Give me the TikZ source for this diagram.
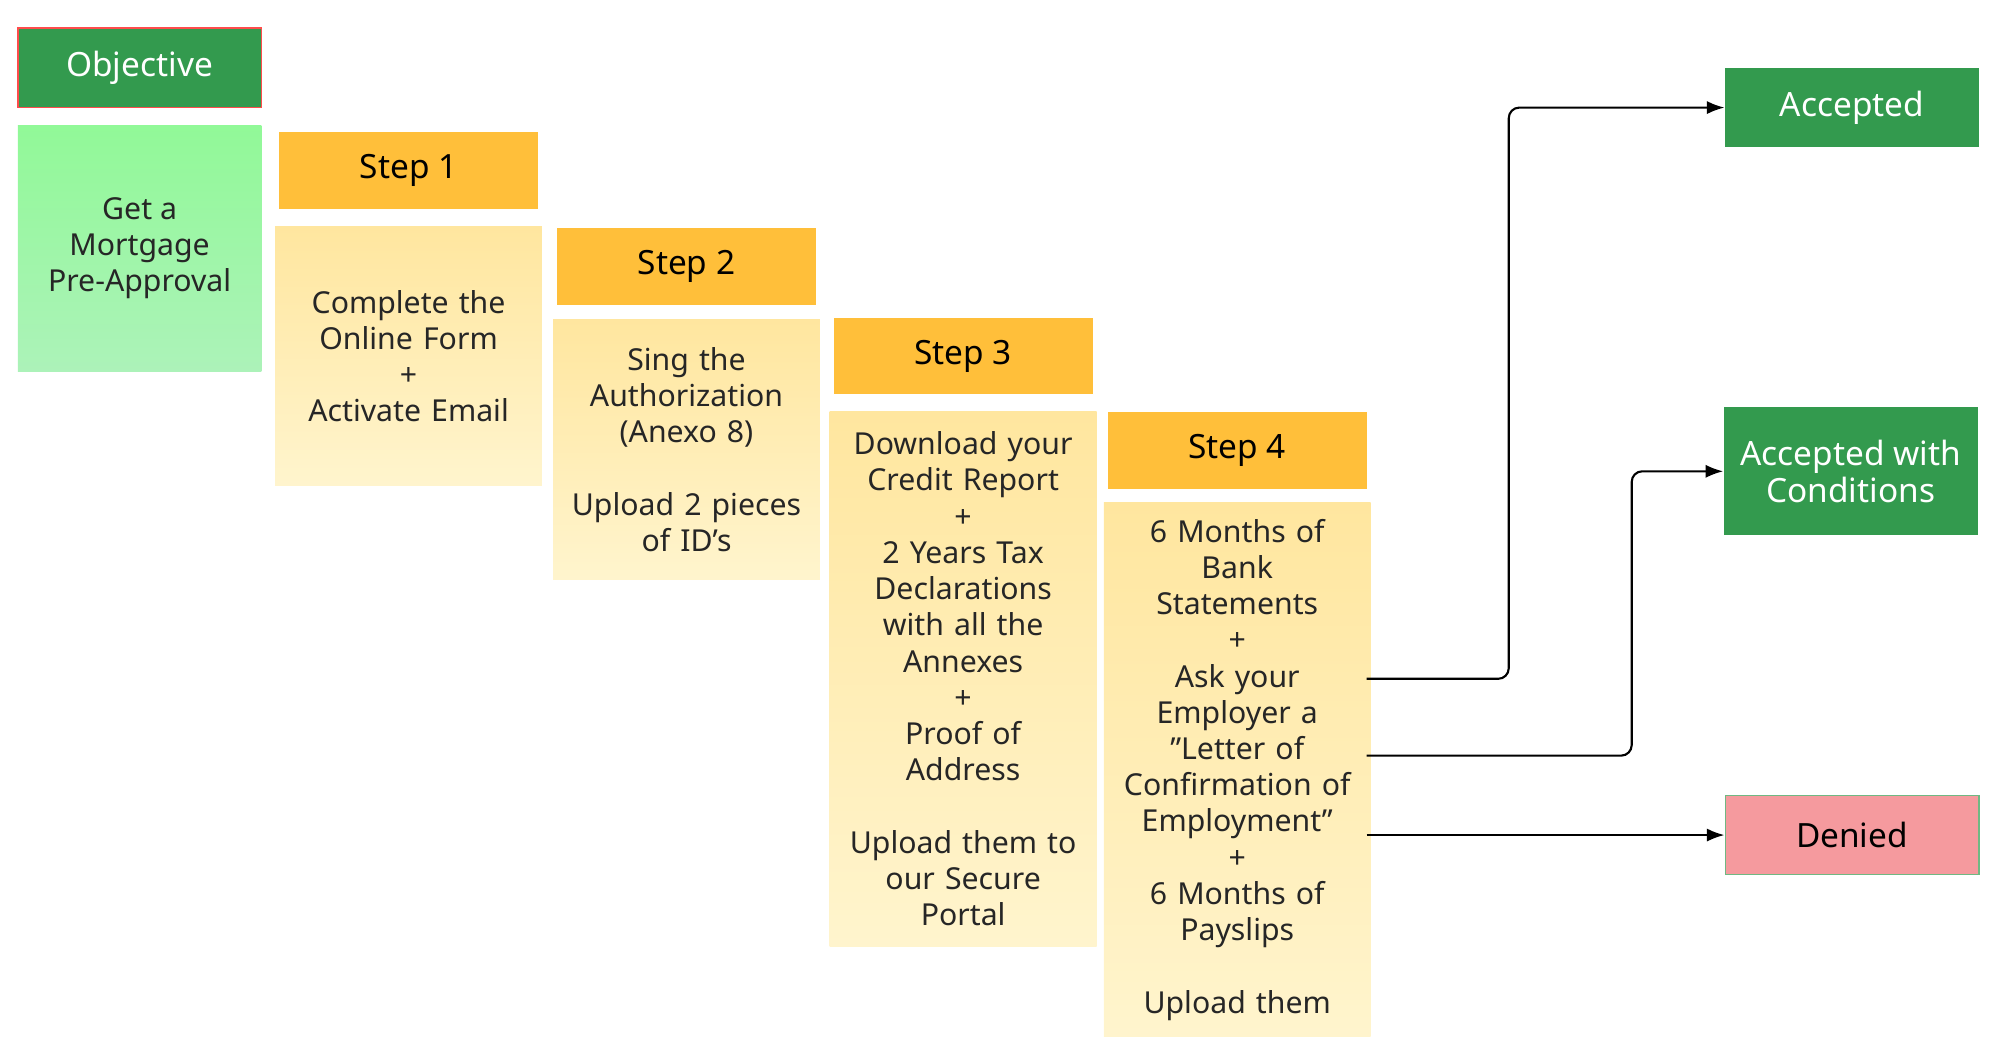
\documentclass[tikz,border=0pt]{standalone}
\usepackage{fontspec}
\setmainfont{Noto Sans}
\usetikzlibrary{positioning, arrows.meta}
\def\pxu{0.0128cm}
\definecolor{darkgreen}{HTML}{339A4E}
\definecolor{stepyellow}{HTML}{FFBF3A}
\definecolor{bodyyellow}{HTML}{FFF0B8}
\definecolor{deniedpink}{HTML}{F59A9E}
\tikzset{
  head/.style={fill=stepyellow, minimum width=202*\pxu, minimum height=60*\pxu, font=\fontsize{9.5}{11}\selectfont\bfseries},
  body/.style={top color=bodyyellow!80!stepyellow, bottom color=bodyyellow!70, minimum width=202*\pxu, align=center, text width=190*\pxu, font=\fontsize{8.6}{10.3}\selectfont, text=black!85},
  result/.style={fill=darkgreen, text=white, minimum width=198*\pxu, align=center, font=\fontsize{9.5}{10.5}\selectfont\bfseries},
  link/.style={-{Latex[length=5pt]}, rounded corners=3pt, semithick}
}
\begin{document}
\begin{tikzpicture}[x=\pxu, y=-\pxu]
\useasboundingbox (0,0) rectangle (1560,820);
% objective
\node[result, draw=red!70, minimum width=190*\pxu, minimum height=62*\pxu] (obj) at (109,53) {Objective};
\node[top color=green!40!white!95!teal, bottom color=green!25!white!90!teal, minimum width=190*\pxu, minimum height=192*\pxu, align=center, font=\fontsize{8.6}{10.3}\selectfont, text=black!85] (goal) at (109,194) {Get a\\Mortgage\\Pre-Approval};
% steps
\node[head] (s1) at (319,133) {Step 1};
\node[body, minimum height=202*\pxu] (b1) at (319,278) {Complete the\\Online Form\\+\\Activate Email};
\node[head] (s2) at (536,208) {Step 2};
\node[body, minimum height=203*\pxu] (b2) at (536,351) {Sing the\\Authorization\\(Anexo 8)\\[10.3pt]Upload 2 pieces\\of ID's};
\node[head] (s3) at (752,278) {Step 3};
\node[body, minimum height=418*\pxu] (b3) at (752,530) {Download your\\Credit Report\\+\\2 Years Tax\\Declarations\\with all the\\Annexes\\+\\Proof of\\Address\\[10.3pt]Upload them to\\our Secure\\Portal};
\node[head] (s4) at (966,352) {Step 4};
\node[body, minimum height=417*\pxu] (b4) at (966,601) {6 Months of\\Bank\\Statements\\+\\Ask your\\Employer a\\"Letter of\\Confirmation of\\Employment"\\+\\6 Months of\\Payslips\\[10.3pt]Upload them};
% results
\node[result, minimum height=62*\pxu] (acc) at (1446,84) {Accepted};
\node[result, minimum height=100*\pxu] (cond) at (1445,368) {Accepted with\\Conditions};
\node[result, fill=deniedpink, draw=darkgreen!70, text=black, minimum height=62*\pxu] (den) at (1446,652) {Denied};
\coordinate (o1) at (1067,530);
\coordinate (o2) at (1067,590);
\draw[link] (o1) -| (1178,84) -- (acc.west);
\draw[link] (o2) -| (1274,368) -- (cond.west);
\draw[link] (1067,652) -- (den.west);
\end{tikzpicture}
\end{document}
